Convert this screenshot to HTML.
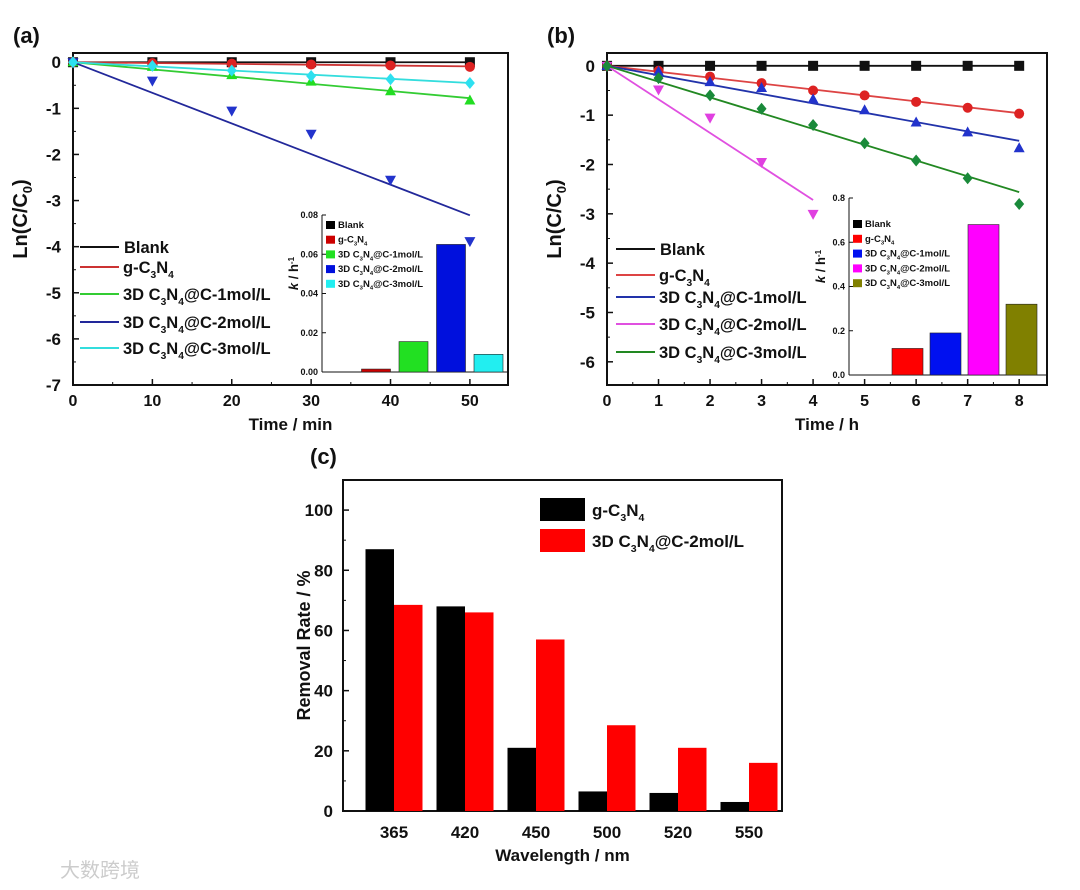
<!DOCTYPE html>
<html><head><meta charset="utf-8"><style>
html,body{margin:0;padding:0;background:#fff;}
svg{display:block;font-family:"Liberation Sans","Noto Sans CJK SC",sans-serif;font-weight:bold;}
</style></head><body>
<svg id="fig" width="1080" height="890" viewBox="0 0 1080 890" xmlns="http://www.w3.org/2000/svg"></svg>
<script>
// ---------- Panel (a) data ----------
const aTimes = [0,10,20,30,40,50];
const aBlank = [0,0,0,0,0,0];
const aG = [0,-0.02,-0.03,-0.05,-0.07,-0.1];
const aC1 = [0,-0.1,-0.28,-0.42,-0.63,-0.83];
const aC2 = [0,-0.4,-1.05,-1.55,-2.55,-3.88];
const aC3 = [0,-0.08,-0.18,-0.3,-0.37,-0.45];
const aSlopes = [0,-0.0018,-0.0156,-0.0664,-0.009];
const aK = [0,0.0015,0.0155,0.065,0.009];
const aXTicks = [0,10,20,30,40,50];
const aYTicks = [0,-1,-2,-3,-4,-5,-6,-7];
const aKTicks = [0,0.02,0.04,0.06,0.08];
// ---------- Panel (b) data ----------
const bTimes = [0,1,2,3,4,5,6,7,8];
const bBlank = [0,0,0,0,0,0,0,0,0];
const bG = [0,-0.1,-0.22,-0.35,-0.5,-0.6,-0.73,-0.85,-0.97];
const bC1 = [0,-0.12,-0.33,-0.45,-0.68,-0.9,-1.15,-1.35,-1.67];
const bC2 = [0,-0.48,-1.05,-1.95,-3.0];
const bC3 = [0,-0.25,-0.6,-0.87,-1.2,-1.57,-1.92,-2.28,-2.8];
const bSlopes = [0,-0.12,-0.19,-0.68,-0.32];
const bK = [0,0.12,0.19,0.68,0.32];
const bXTicks = [0,1,2,3,4,5,6,7,8];
const bYTicks = [0,-1,-2,-3,-4,-5,-6];
const bKTicks = [0,0.2,0.4,0.6,0.8];
// ---------- Panel (c) data ----------
const cCats = ["365","420","450","500","520","550"];
const cG = [87,68,21,6.5,6,3];
const cC2 = [68.5,66,57,28.5,21,16];
const cYTicks = [0,20,40,60,80,100];

const NS="http://www.w3.org/2000/svg";
const svg=document.getElementById('fig');
function el(tag,attrs,parent,text){
  const e=document.createElementNS(NS,tag);
  for(const k in attrs)e.setAttribute(k,attrs[k]);
  if(text!==undefined)e.textContent=text;
  (parent||svg).appendChild(e);return e;
}
function grp(name){const g=el('g',{});return g;}
function lab(g,x,y,t,size,anchor,name){
  const e=el('text',{x:x,y:y,'font-size':size,'text-anchor':anchor||'middle',fill:'#111'},g,t);
  
  
  return e;
}
function chemLabel(g,x,y,prefix,suffix,size,name){
  const t=el('text',{x:x,y:y,'font-size':size,fill:'#111'},g);
  
  
  const sub=size*0.62;
  el('tspan',{},t,prefix+'C');
  el('tspan',{dy:size*0.3,'font-size':sub},t,'3');
  el('tspan',{dy:-size*0.3},t,'N');
  el('tspan',{dy:size*0.3,'font-size':sub},t,'4');
  el('tspan',{dy:-size*0.3},t,suffix);
  return t;
}
function marker(g,type,x,y,color,s){
  let m;
  if(type==='sq')m=el('rect',{x:x-s,y:y-s,width:2*s,height:2*s,fill:color},g);
  else if(type==='ci')m=el('circle',{cx:x,cy:y,r:s,fill:color},g);
  else if(type==='up')m=el('polygon',{points:`${x},${y-s*1.2} ${x-s*1.1},${y+s*0.8} ${x+s*1.1},${y+s*0.8}`,fill:color},g);
  else if(type==='dn')m=el('polygon',{points:`${x},${y+s*1.2} ${x-s*1.1},${y-s*0.8} ${x+s*1.1},${y-s*0.8}`,fill:color},g);
  else m=el('polygon',{points:`${x},${y-s*1.2} ${x+s},${y} ${x},${y+s*1.2} ${x-s},${y}`,fill:color},g);
  
  
}

function kineticPanel(cfg){
  const g=grp(cfg.name);
  const X=v=>cfg.L+(v-cfg.xmin)/(cfg.xmax-cfg.xmin)*(cfg.R-cfg.L);
  const Y=v=>cfg.T+(cfg.ymax-v)/(cfg.ymax-cfg.ymin)*(cfg.B-cfg.T);
  const f=el('rect',{x:cfg.L,y:cfg.T,width:cfg.R-cfg.L,height:cfg.B-cfg.T,fill:'none',stroke:'#111','stroke-width':2},g);
  
  cfg.xticks.forEach((v,i)=>{
    el('line',{x1:X(v),x2:X(v),y1:cfg.B,y2:cfg.B-6,stroke:'#111','stroke-width':1.5},g);
    if(i<cfg.xticks.length-1){const m=(v+cfg.xticks[i+1])/2;el('line',{x1:X(m),x2:X(m),y1:cfg.B,y2:cfg.B-3,stroke:'#111','stroke-width':1},g);}
    lab(g,X(v),cfg.B+21,String(v),16,'middle','x-tick-label');
  });
  cfg.yticks.forEach((v,i)=>{
    el('line',{x1:cfg.L,x2:cfg.L+6,y1:Y(v),y2:Y(v),stroke:'#111','stroke-width':1.5},g);
    if(i<cfg.yticks.length-1){el('line',{x1:cfg.L,x2:cfg.L+3,y1:Y(v-0.5),y2:Y(v-0.5),stroke:'#111','stroke-width':1},g);}
    lab(g,cfg.L-12,Y(v)+6,String(v),17,'end','y-tick-label');
  });
  lab(g,(cfg.L+cfg.R)/2,cfg.B+45,cfg.xtitle,17,'middle','x-axis-title');
  const yt=el('text',{transform:`translate(${cfg.L-46},${(cfg.T+cfg.B)/2}) rotate(-90)`,'font-size':20,'text-anchor':'middle',fill:'#111'},g);
  
  el('tspan',{},yt,'Ln(C/C');el('tspan',{dy:5,'font-size':13},yt,'0');el('tspan',{dy:-5},yt,')');
  lab(g,cfg.L-60,cfg.T-10,cfg.label,22,'start','panel-label');
  const I=cfg.inset;
  const KY=v=>I.B-(v/I.max)*(I.B-I.T);
  el('line',{x1:I.L,x2:I.L,y1:I.T,y2:I.B,stroke:'#111','stroke-width':1},g);
  el('line',{x1:I.L,x2:cfg.R,y1:I.B,y2:I.B,stroke:'#111','stroke-width':1},g);
  I.ticks.forEach(v=>{
    el('line',{x1:I.L,x2:I.L+4,y1:KY(v),y2:KY(v),stroke:'#111'},g);
    lab(g,I.L-4,KY(v)+3,I.fmt(v),9,'end','inset-y-tick-label');
  });
  const kt=el('text',{transform:`translate(${I.L-24},${(I.T+I.B)/2-20}) rotate(-90)`,'font-size':13,'text-anchor':'middle',fill:'#111'},g);
  
  el('tspan',{'font-style':'italic'},kt,'k');el('tspan',{},kt,' / h');el('tspan',{dy:-4,'font-size':8},kt,'-1');
  cfg.k.forEach((v,i)=>{
    const x=I.x0+i*I.step;
    const b=el('rect',{x:x,y:KY(v),width:I.w,height:I.B-KY(v),fill:cfg.barColors[i],stroke:'#222','stroke-width':0.6},g);
    
  });
  cfg.names.forEach((n,i)=>{
    const y=I.legY+i*I.legStep;
    el('rect',{x:I.L+4,y:y-7,width:9,height:8,fill:cfg.barColors[i]},g);
    if(i===0)lab(g,I.L+16,y,'Blank',9.5,'start','inset-legend-entry');
    else if(i===1)chemLabel(g,I.L+16,y,'g-','',9.5,'inset-legend-entry');
    else chemLabel(g,I.L+16,y,'3D ',n,9.5,'inset-legend-entry');
  });
  cfg.series.forEach((s,i)=>{
    const t=cfg.times.slice(0,s.length);
    const tEnd=t[t.length-1];
    const ln=el('line',{x1:X(0),y1:Y(0),x2:X(tEnd),y2:Y(cfg.slopes[i]*tEnd),stroke:cfg.lineColors[i],'stroke-width':1.8},g);
    
    s.forEach((v,j)=>marker(g,cfg.markers[i],X(t[j]),Y(v),cfg.markerColors[i],5));
  });
  cfg.names.forEach((n,i)=>{
    const y=cfg.legY[i];
    const l=el('line',{x1:cfg.legX,x2:cfg.legX+39,y1:y,y2:y,stroke:cfg.lineColors[i],'stroke-width':2},g);
    
    if(i===0)lab(g,cfg.legX+44,y+6,'Blank',16.5,'start','legend-entry');
    else if(i===1)chemLabel(g,cfg.legX+43,y+6,'g-','',16.5,'legend-entry');
    else chemLabel(g,cfg.legX+43,y+6,'3D ',n,16.5,'legend-entry');
  });
}
const names=['Blank','g','@C-1mol/L','@C-2mol/L','@C-3mol/L'];
kineticPanel({name:'panel-a',label:'(a)',L:73,R:508,T:53,B:385,xmin:0,xmax:54.8,ymin:-7,ymax:0.2,
  xticks:aXTicks,yticks:aYTicks,xtitle:'Time / min',times:aTimes,
  series:[aBlank,aG,aC1,aC2,aC3],slopes:aSlopes,k:aK,names:names,
  lineColors:['#111','#c33','#3c3','#22289a','#3dd'],markerColors:['#111','#d22','#2d2','#2233cc','#2de0f0'],
  markers:['sq','ci','up','dn','di'],barColors:['#000','#c00','#22e022','#0010dd','#22eef0'],
  legX:80,legY:[247,267,294,322,348],
  inset:{L:322,T:215,B:372,max:0.08,ticks:aKTicks,fmt:v=>v.toFixed(2),x0:324,step:37.5,w:29,legY:228,legStep:14.7}});
kineticPanel({name:'panel-b',label:'(b)',L:607,R:1047,T:53,B:385,xmin:0,xmax:8.54,ymin:-6.47,ymax:0.26,
  xticks:bXTicks,yticks:bYTicks,xtitle:'Time / h',times:bTimes,
  series:[bBlank,bG,bC1,bC2,bC3],slopes:bSlopes,k:bK,names:names,
  lineColors:['#111','#d44','#2233aa','#e050e0','#228822'],markerColors:['#111','#d22','#2233cc','#e040e0','#1a8a3a'],
  markers:['sq','ci','up','dn','di'],barColors:['#000','#f00','#0010f0','#f0f','#808000'],
  legX:616,legY:[249,275,297,324,352],
  inset:{L:849,T:198,B:375,max:0.8,ticks:bKTicks,fmt:v=>v.toFixed(1),x0:854,step:38,w:31,legY:227,legStep:14.8}});

(function(){
  const g=grp('panel-c');
  const L=343,R=782,T=480,B=811,ymax=110;
  const Y=v=>B-v/ymax*(B-T);
  const step=71,c0=394,w=28.5;
  const f=el('rect',{x:L,y:T,width:R-L,height:B-T,fill:'none',stroke:'#111','stroke-width':2},g);
  
  cYTicks.forEach(v=>{
    el('line',{x1:L,x2:L+6,y1:Y(v),y2:Y(v),stroke:'#111','stroke-width':1.5},g);
    el('line',{x1:L,x2:L+3,y1:Y(v+10),y2:Y(v+10),stroke:'#111','stroke-width':1},g);
    lab(g,L-10,Y(v)+6,String(v),17,'end','y-tick-label');
  });
  cCats.forEach((c,i)=>{
    const cx=c0+i*step;
    const b1=el('rect',{x:cx-w,y:Y(cG[i]),width:w,height:B-Y(cG[i]),fill:'#000'},g);
    
    const b2=el('rect',{x:cx,y:Y(cC2[i]),width:w,height:B-Y(cC2[i]),fill:'#f00'},g);
    
    lab(g,cx,B+27,c,17,'middle','x-tick-label');
  });
  lab(g,(L+R)/2,B+50,'Wavelength / nm',17,'middle','x-axis-title');
  const yt=el('text',{transform:`translate(310,${(T+B)/2}) rotate(-90)`,'font-size':18,'text-anchor':'middle',fill:'#111'},g,'Removal Rate / %');
  
  lab(g,310,464,'(c)',22,'start','panel-label');
  el('rect',{x:540,y:498,width:45,height:23,fill:'#000'},g);
  el('rect',{x:540,y:529,width:45,height:23,fill:'#f00'},g);
  chemLabel(g,592,516,'g-','',17,'legend-entry');
  chemLabel(g,592,547,'3D ','@C-2mol/L',17,'legend-entry');
})();
const wm=el('text',{x:60,y:877,'font-size':20,fill:'#ccc','font-weight':'normal'},svg,'大数跨境');


</script>
</body></html>
